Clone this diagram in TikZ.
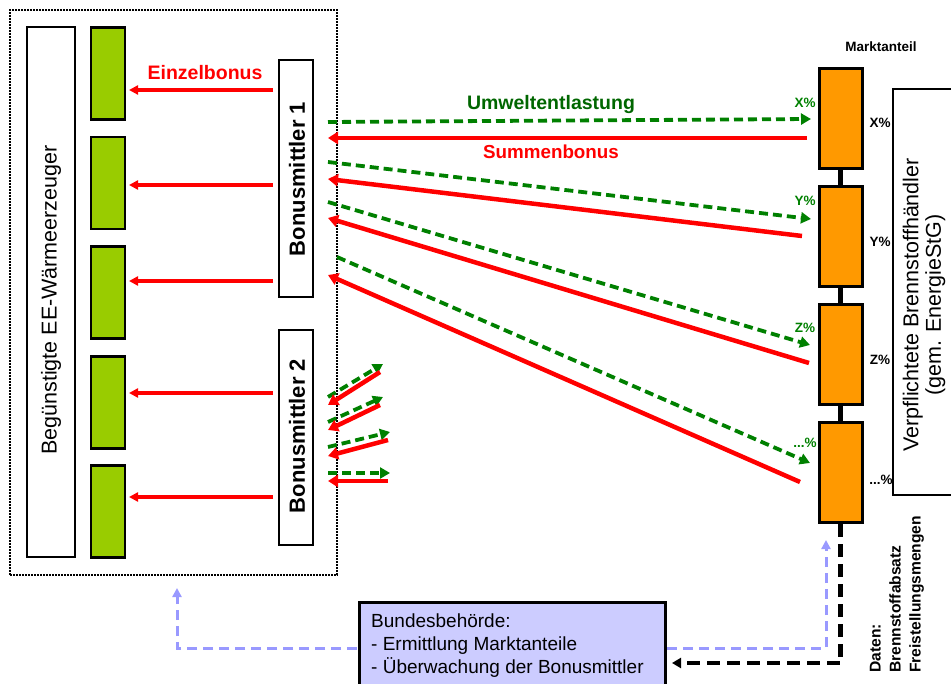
\documentclass[tikz,border=0pt]{standalone}
\usepackage{fontspec}
\setmainfont{Liberation Sans}
\usetikzlibrary{arrows.meta}
\definecolor{rd}{RGB}{255,0,0}
\definecolor{gn}{RGB}{0,128,0}
\definecolor{gntext}{RGB}{0,102,0}
\definecolor{lime}{RGB}{153,204,0}
\definecolor{orng}{RGB}{255,153,0}
\definecolor{lblue}{RGB}{153,153,255}
\definecolor{lfill}{RGB}{204,204,255}
\begin{document}
\begin{tikzpicture}[x=1pt,y=-1pt,
  gbox/.style={draw, line width=2.5pt, fill=lime, minimum width=34pt, minimum height=92pt, inner sep=0pt},
  obox/.style={draw, line width=3pt, fill=orng, minimum width=43pt, minimum height=100pt, inner sep=0pt},
  wbox/.style={draw, line width=1.6pt, fill=white, inner sep=0pt},
  rarrs/.style={draw=rd, line width=3.2pt, -{Triangle[length=9pt,width=9pt]}},
  rarr/.style={draw=rd, line width=4.5pt, -{Triangle[length=10pt,width=12pt]}},
  garr/.style={draw=gn, line width=3.8pt, dash pattern=on 9pt off 5pt, -{Triangle[length=10pt,width=11pt]}},
  lbarr/.style={draw=lblue, line width=3pt, dash pattern=on 10pt off 6pt, -{Triangle[length=9pt,width=9pt]}},
  bkarr/.style={draw=black, line width=4.5pt, dash pattern=on 13pt off 7pt, -{Triangle[length=9pt,width=10pt]}},
  lbl/.style={font=\bfseries\fontsize{13.5}{15}\selectfont, inner sep=0pt}
]
\useasboundingbox (0,0) rectangle (951,684);
\clip (0,0) rectangle (951,684);

% outer dotted frame
\node[draw, line width=1.3pt, dash pattern=on 2pt off 1pt, minimum width=327pt, minimum height=565pt, inner sep=0pt] (outer) at (173.5,292.5) {};

% left tall box
\node[wbox, line width=1.6pt, minimum width=48pt, minimum height=530pt] (lb) at (51,292) {};
\node[rotate=90, font=\fontsize{21.5}{24}\selectfont, inner sep=0pt] (lbt) at (51,300) {Begünstigte EE-Wärmeerzeuger};

% green boxes
\node[gbox] (g1) at (108,73.5) {};
\node[gbox] (g2) at (108,183) {};
\node[gbox] (g3) at (108,292.5) {};
\node[gbox] (g4) at (108,402.5) {};
\node[gbox] (g5) at (108,511.5) {};

% Bonusmittler boxes
\node[wbox, line width=2pt, minimum width=34pt, minimum height=237pt] (bm1) at (296,178.5) {};
\node[rotate=90, font=\bfseries\fontsize{22}{24}\selectfont, inner sep=0pt] (bm1t) at (297,179) {Bonusmittler 1};
\node[wbox, line width=2pt, minimum width=34pt, minimum height=215pt] (bm2) at (296,437.5) {};
\node[rotate=90, font=\bfseries\fontsize{22}{24}\selectfont, inner sep=0pt] (bm2t) at (297,436) {Bonusmittler 2};

% Einzelbonus arrows
\coordinate (s1) at (273,90);  \coordinate (t1) at (129,90);
\coordinate (s2) at (273,185); \coordinate (t2) at (129,185);
\coordinate (s3) at (273,281); \coordinate (t3) at (129,281);
\coordinate (s4) at (273,393); \coordinate (t4) at (129,393);
\coordinate (s5) at (273,497); \coordinate (t5) at (129,497);
\draw[rarrs] (s1) -- (t1);
\draw[rarrs] (s2) -- (t2);
\draw[rarrs] (s3) -- (t3);
\draw[rarrs] (s4) -- (t4);
\draw[rarrs] (s5) -- (t5);
\node[text=rd, font=\bfseries\fontsize{19.5}{22}\selectfont, inner sep=0pt] (einz) at (205,73) {Einzelbonus};

% orange market-share boxes
\draw[line width=4.5pt] (840.5,118) -- (840.5,472);
\node[obox] (o1) at (840.5,118.5) {};
\node[obox] (o2) at (840.5,236.5) {};
\node[obox] (o3) at (840.5,355) {};
\node[obox] (o4) at (840.5,472.5) {};
\node[lbl] (mkt) at (881,47) {Marktanteil};
\node[lbl] (p1) at (880,123) {X\%};
\node[lbl] (p2) at (880,242) {Y\%};
\node[lbl] (p3) at (880,360) {Z\%};
\node[lbl] (p4) at (881,480) {...\%};
\node[lbl, text=gn] (q1) at (805,103) {X\%};
\node[lbl, text=gn] (q2) at (805,201) {Y\%};
\node[lbl, text=gn] (q3) at (805,328) {Z\%};
\node[lbl, text=gn] (q4) at (805,443) {...\%};

% right box
\node[wbox, line width=1.6pt, minimum width=80pt, minimum height=406pt] (rb) at (933,292) {};
\node[rotate=90, align=center, font=\fontsize{21.5}{22.5}\selectfont, inner sep=0pt] (rbt) at (924,305) {Verpflichtete Brennstoffhändler\\(gem. EnergieStG)};

% long arrows
\coordinate (ga1) at (328,122); \coordinate (gb1) at (811,119);
\coordinate (ra1) at (807,138); \coordinate (rb1) at (328,138);
\coordinate (ga2) at (328,162); \coordinate (gb2) at (811,219);
\coordinate (ra2) at (802,236); \coordinate (rb2) at (328,179);
\coordinate (ga3) at (328,202); \coordinate (gb3) at (810,345);
\coordinate (ra3) at (809,363); \coordinate (rb3) at (328,218);
\coordinate (ga4) at (337,257); \coordinate (gb4) at (810,463);
\coordinate (ra4) at (800,482); \coordinate (rb4) at (328,275);
\draw[garr] (ga1) -- (gb1);
\draw[rarr] (ra1) -- (rb1);
\draw[garr] (ga2) -- (gb2);
\draw[rarr] (ra2) -- (rb2);
\draw[garr] (ga3) -- (gb3);
\draw[rarr] (ra3) -- (rb3);
\draw[garr] (ga4) -- (gb4);
\draw[rarr] (ra4) -- (rb4);
\node[text=gntext, font=\bfseries\fontsize{19.5}{22}\selectfont, inner sep=0pt] (umw) at (551,105) {Umweltentlastung};
\node[text=rd, font=\bfseries\fontsize{18.8}{22}\selectfont, inner sep=0pt] (sum) at (551,152) {Summenbonus};

% small arrows at Bonusmittler 2
\coordinate (xa1) at (328,397); \coordinate (xa2) at (383,364);
\coordinate (ya1) at (380,372); \coordinate (ya2) at (328,405);
\coordinate (xb1) at (328,422); \coordinate (xb2) at (383,397);
\coordinate (yb1) at (380,405); \coordinate (yb2) at (328,430);
\coordinate (xc1) at (328,447); \coordinate (xc2) at (390,432);
\coordinate (yc1) at (388,440); \coordinate (yc2) at (328,456);
\coordinate (xd1) at (328,473); \coordinate (xd2) at (390,473);
\coordinate (yd1) at (388,481); \coordinate (yd2) at (328,481);
\draw[garr] (xa1) -- (xa2);
\draw[rarr] (ya1) -- (ya2);
\draw[garr] (xb1) -- (xb2);
\draw[rarr] (yb1) -- (yb2);
\draw[garr] (xc1) -- (xc2);
\draw[rarr] (yc1) -- (yc2);
\draw[garr] (xd1) -- (xd2);
\draw[rarr] (yd1) -- (yd2);

% Bundesbehoerde
\node[draw, line width=3pt, fill=lfill, minimum width=306pt, minimum height=100pt, inner sep=0pt] (bund) at (512,652) {};
\node[anchor=west, align=left, font=\fontsize{19}{23}\selectfont, inner sep=0pt] (bundt) at (371,646) {Bundesbehörde:\\- Ermittlung Marktanteile\\- Überwachung der Bonusmittler};

\coordinate (lbs) at (357,648); \coordinate (lbe) at (177,588);
\coordinate (rbs) at (667,648); \coordinate (rbe) at (826,540);
\draw[lbarr] (lbs) -| (lbe);
\draw[lbarr] (rbs) -| (rbe);
\coordinate (bke) at (672,663);
\draw[bkarr] (o4.south) |- (bke);

\node[rotate=90, anchor=west, align=left, font=\bfseries\fontsize{15.6}{20}\selectfont, inner sep=0pt] (daten) at (897,673) {Daten:\\Brennstoffabsatz\\Freistellungsmengen};
\end{tikzpicture}
\end{document}
